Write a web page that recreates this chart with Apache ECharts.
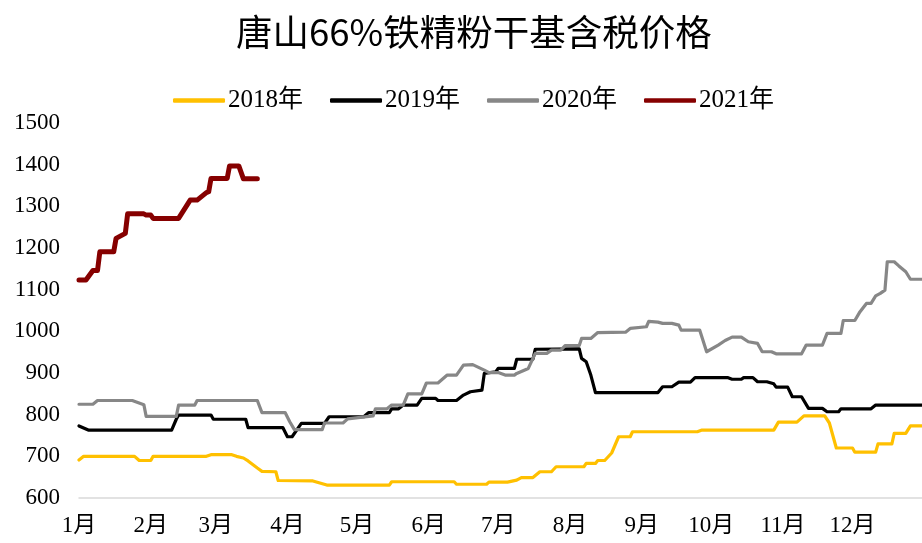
<!DOCTYPE html>
<html>
<head>
<meta charset="utf-8">
<script src="https://cdn.jsdelivr.net/npm/echarts@6/dist/echarts.min.js"></script>
<style>
html,body{margin:0;padding:0;background:#fff;}
#chart{width:922px;height:543px;}
</style>
</head>
<body>
<div id="chart"></div>
<script>
const titleText = '唐山66%铁精粉干基含税价格';
const seriesNames = ['2018年', '2019年', '2020年', '2021年'];
const monthLabels = ['1月','2月','3月','4月','5月','6月','7月','8月','9月','10月','11月','12月'];
const yTicks = [600, 700, 800, 900, 1000, 1100, 1200, 1300, 1400, 1500];

const data2018 = [['01-01',691],['01-03',700],['01-25',700],['01-27',690],['02-01',690],['02-02',700],['02-25',700],['02-27',704],['03-08',704],['03-10',700],['03-13',696],['03-15',689],['03-19',672],['03-21',664],['03-27',663],['03-28',642],['04-12',641],['04-18',631],['05-15',631],['05-16',639],['06-12',639],['06-13',633],['06-26',633],['06-27',638],['07-05',638],['07-09',643],['07-11',649],['07-16',649],['07-19',663],['07-24',663],['07-26',675],['08-07',675],['08-08',683],['08-12',683],['08-13',690],['08-16',690],['08-19',708],['08-22',747],['08-27',747],['08-28',759],['09-25',759],['09-27',763],['10-28',763],['10-30',782],['11-07',782],['11-10',797],['11-19',797],['11-21',780],['11-24',720],['12-01',720],['12-02',710],['12-11',710],['12-12',730],['12-18',730],['12-19',755],['12-24',755],['12-26',773],['12-31',773]];

const data2019 = [['01-01',773],['01-05',763],['02-10',763],['02-12',789],['02-13',799],['02-27',799],['02-28',789],['03-14',789],['03-15',769],['03-30',769],['04-01',747],['04-03',747],['04-07',779],['04-17',779],['04-19',795],['05-04',795],['05-06',805],['05-15',805],['05-16',814],['05-19',814],['05-21',823],['05-27',823],['05-29',839],['06-04',839],['06-05',834],['06-13',834],['06-16',847],['06-19',855],['06-24',859],['06-25',899],['06-30',903],['07-01',911],['07-08',911],['07-09',933],['07-16',933],['07-17',957],['08-05',958],['08-06',935],['08-08',927],['08-10',895],['08-12',853],['09-08',853],['09-10',867],['09-14',867],['09-17',878],['09-22',878],['09-24',889],['10-08',889],['10-10',885],['10-14',885],['10-15',889],['10-19',889],['10-21',879],['10-25',879],['10-28',874],['10-29',866],['11-03',866],['11-05',843],['11-09',843],['11-12',815],['11-18',815],['11-20',807],['11-25',807],['11-26',814],['12-09',814],['12-11',823],['12-31',823]];

const data2020 = [['01-01',825],['01-07',825],['01-09',834],['01-24',834],['01-29',824],['01-30',796],['02-12',796],['02-13',823],['02-20',823],['02-21',834],['03-19',834],['03-21',805],['03-31',805],['04-02',783],['04-04',764],['04-16',764],['04-17',780],['04-25',780],['04-27',790],['05-08',797],['05-09',814],['05-14',814],['05-16',823],['05-21',823],['05-23',850],['05-29',850],['05-31',876],['06-05',876],['06-09',895],['06-13',895],['06-16',919],['06-20',920],['06-25',907],['06-27',901],['07-01',901],['07-04',895],['07-08',895],['07-09',899],['07-14',911],['07-17',947],['07-22',947],['07-24',955],['07-28',955],['07-30',966],['08-05',966],['08-06',983],['08-10',983],['08-13',997],['08-25',998],['08-27',1007],['09-03',1011],['09-04',1024],['09-08',1022],['09-10',1019],['09-14',1019],['09-17',1015],['09-18',1003],['09-26',1003],['09-29',951],['10-04',967],['10-07',978],['10-10',986],['10-14',986],['10-17',975],['10-21',971],['10-23',951],['10-27',951],['10-29',946],['11-09',946],['11-11',967],['11-18',967],['11-20',995],['11-26',995],['11-27',1026],['12-02',1026],['12-04',1045],['12-07',1067],['12-09',1067],['12-11',1085],['12-13',1091],['12-15',1099],['12-16',1167],['12-19',1167],['12-21',1157],['12-24',1143],['12-26',1125],['12-31',1125]];

const data2021 = [['01-01',1123],['01-04',1123],['01-07',1146],['01-09',1146],['01-10',1191],['01-16',1191],['01-17',1223],['01-21',1235],['01-22',1282],['01-29',1282],['01-30',1279],['02-01',1279],['02-02',1271],['02-13',1271],['02-18',1315],['02-21',1315],['02-25',1333],['02-26',1335],['02-27',1367],['03-06',1367],['03-07',1397],['03-11',1397],['03-13',1366],['03-19',1366]];

const BASE_YEAR = 2021;
function toTime(md) {
  const p = md.split('-');
  return new Date(BASE_YEAR, parseInt(p[0], 10) - 1, parseInt(p[1], 10)).getTime();
}
function prep(arr) { return arr.map(d => [toTime(d[0]), d[1]]); }

const monthStarts = monthLabels.map((_, i) => new Date(BASE_YEAR, i, 1).getTime());
const colors = ['#FFC000', '#000000', '#878787', '#860000'];
const widths = [3.2, 3.2, 3.2, 5];
const allData = [data2018, data2019, data2020, data2021];

const serifFont = '"Liberation Serif", "Times New Roman", "Noto Sans CJK SC", serif';

const chart = echarts.init(document.getElementById('chart'), null, {renderer: 'canvas'});
chart.setOption({
  animation: false,
  backgroundColor: '#fff',
  title: {
    text: titleText,
    left: 231,
    top: 9,
    textStyle: {fontFamily: '"Noto Sans CJK SC", sans-serif', fontSize: 36.5, fontWeight: 'normal', color: '#000'}
  },
  legend: {
    data: seriesNames,
    top: 83,
    left: 168,
    icon: 'roundRect',
    itemWidth: 52,
    itemHeight: 4.5,
    itemGap: 27,
    textStyle: {fontFamily: serifFont, fontSize: 25, color: '#000', padding: [0, 0, 0, -2]}
  },
  grid: {left: 79, right: 0, top: 123, bottom: 45, containLabel: false},
  xAxis: {
    type: 'value',
    min: toTime('01-01'),
    max: toTime('12-31'),
    axisLine: {show: true, lineStyle: {color: '#d9d9d9', width: 1.5}},
    axisTick: {show: false},
    splitLine: {show: false},
    axisLabel: {
      customValues: monthStarts,
      formatter: function (val) { return monthLabels[new Date(val).getMonth()]; },
      fontFamily: serifFont, fontSize: 23, color: '#000', margin: 16,
      hideOverlap: false
    }
  },
  yAxis: {
    type: 'value',
    min: yTicks[0],
    max: yTicks[yTicks.length - 1],
    interval: 100,
    axisLine: {show: false},
    axisTick: {show: false},
    splitLine: {show: false},
    axisLabel: {
      formatter: function (v) { return String(v); },
      fontFamily: serifFont, fontSize: 23, color: '#000', margin: 19
    }
  },
  series: seriesNames.map((name, i) => ({
    name: name,
    type: 'line',
    data: prep(allData[i]),
    symbol: 'none',
    showSymbol: false,
    smooth: false,
    z: 2 + i,
    color: colors[i],
    lineStyle: {color: colors[i], width: widths[i], cap: 'round', join: 'round'}
  }))
});
</script>
</body>
</html>
